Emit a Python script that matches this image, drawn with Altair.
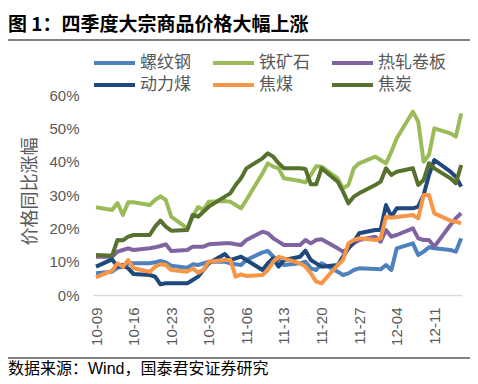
import json
import altair as alt
import pandas as pd

# ---- data ----
dates = [
    "2020-10-09",
    "2020-10-12", "2020-10-13", "2020-10-14", "2020-10-15", "2020-10-16",
    "2020-10-19", "2020-10-20", "2020-10-21", "2020-10-22", "2020-10-23",
    "2020-10-26", "2020-10-27", "2020-10-28", "2020-10-29", "2020-10-30",
    "2020-11-02", "2020-11-03", "2020-11-04", "2020-11-05", "2020-11-06",
    "2020-11-09", "2020-11-10", "2020-11-11", "2020-11-12", "2020-11-13",
    "2020-11-16", "2020-11-17", "2020-11-18", "2020-11-19", "2020-11-20",
    "2020-11-23", "2020-11-24", "2020-11-25", "2020-11-26", "2020-11-27",
    "2020-11-30", "2020-12-01", "2020-12-02", "2020-12-03", "2020-12-04",
    "2020-12-07", "2020-12-08", "2020-12-09", "2020-12-10", "2020-12-11",
    "2020-12-14", "2020-12-15", "2020-12-16",
]

series_names = ["螺纹钢", "铁矿石", "热轧卷板", "动力煤", "焦煤", "焦炭"]
series_colors = ["#4F81BD", "#9BBB59", "#8064A2", "#1F497D", "#F79646", "#56722C"]

rebar = [6.5, 7, 8.2, 8.4, 9.5, 9.5, 9.5, 9.8, 10.2, 9.8,
         8.8, 8.2, 9.2, 9, 9.5, 10, 10, 9.5, 9.2, 9,
         10.5, 12.8, 13.2, 11.5, 10.5, 9, 9.5, 10, 8, 7.5,
         9.5, 7, 6, 6.5, 7.5, 8, 7.8, 7.7, 9, 7.5,
         14, 15.5, 12, 13, 14.3, 14, 13.5, 13, 17]
iron_ore = [26.3, 25.5, 27.6, 24, 27.8, 27.8, 27, 28.5, 29.6, 28.5,
            23.5, 20, 23.5, 26.4, 25.5, 28, 28.2, 28, 27, 26,
            28.5, 36.5, 39.5, 38.5, 38, 35, 34.2, 33.8, 36, 38.6,
            38.5, 35, 32, 33, 38, 39.5, 41.5, 40.5, 39.5, 43,
            47, 55, 52, 40, 42, 50, 48.5, 47.5, 54.5]
hrc = [11.5, 11.5, 13, 13.5, 14, 13.5, 14, 14.3, 14.7, 15.2,
       13.2, 13.5, 14.5, 14.5, 14.5, 15.2, 15.5, 15.5, 15.2, 15,
       16.5, 19, 18.5, 17, 16, 15, 15, 16.5, 15.5, 16.5,
       16.7, 14, 13, 14, 15.5, 16.5, 17.5, 16, 19.5, 17.5,
       18, 20, 17, 16.5, 16.5, 14.5, 21, 23, 24.5]
thermal_coal = [8.5, 10.7, 8.5, 9, 8, 6.3, 6, 5.5, 3.2, 3.5,
                3.5, 3.5, 4.5, 5.5, 7.5, 9.5, 12.3, 10.5, 11, 11.5,
                10.5, 7.5, 9.5, 11, 8.5, 10.5, 11.5, 13.3, 10.5, 9.5,
                8.5, 9, 11.5, 14, 16, 18.5, 19.5, 19.5, 27, 23.5,
                26, 26, 26.5, 30, 36, 40.5, 37, 35.5, 32.5]
coking_coal = [5.3, 7.3, 9.5, 8.5, 10.5, 8, 7, 8.5, 9.2, 9,
               7.5, 7, 8, 6.7, 7.5, 10, 10.5, 10.5, 5.5, 6.2,
               5.7, 6, 7.5, 10, 11.5, 11, 9.5, 8.5, 6.5, 4,
               3.5, 9, 10.5, 15.5, 16.5, 17, 16.5, 17, 23.5, 23.2,
               23.4, 24, 23, 30, 30, 24.5, 22.3, 22, 21.5]
coke = [12, 11.8, 16.5, 16.4, 17.5, 18, 18, 20.5, 22.3, 20.5,
        19.3, 19.5, 24, 23.5, 25, 26.5, 29.5, 30.5, 33, 35,
        38, 41, 42.5, 41.5, 39.5, 38, 38, 37.8, 33.2, 33.2,
        38, 34, 31, 27.5, 29.5, 30.5, 33, 34, 38, 36,
        37, 38, 33, 34.5, 39.5, 38, 35, 33.5, 39]

tick_labels = ["10-09", "10-16", "10-23", "10-30", "11-06",
               "11-13", "11-20", "11-27", "12-04", "12-11"]
y_ticks = [0, 0.1, 0.2, 0.3, 0.4, 0.5, 0.6]

title_text = "图 1：四季度大宗商品价格大幅上涨"
y_title = "价格同比涨幅"
source_text = "数据来源：Wind，国泰君安证券研究"

# ---- build table ----
start = pd.Timestamp(dates[0])
day = [(pd.Timestamp(d) - start).days for d in dates]
all_values = [rebar, iron_ore, hrc, thermal_coal, coking_coal, coke]
rows = []
for name, vals in zip(series_names, all_values):
    for dd, d, v in zip(dates, day, vals):
        rows.append({"date": dd, "day": d, "series": name, "value": v / 100.0})
df = pd.DataFrame(rows)

tick_days = [(pd.Timestamp("2020-" + t) - start).days for t in tick_labels]
label_expr = json.dumps(tick_labels, ensure_ascii=False) + "[round(datum.value/7)]"

GRAY = "#595959"

lines = alt.Chart(df).mark_line(strokeWidth=4, strokeJoin="round").encode(
    x=alt.X("day:Q",
            scale=alt.Scale(domain=[-0.56, 68.15], nice=False, zero=False),
            axis=alt.Axis(values=tick_days, labelExpr=label_expr, labelAngle=270,
                          grid=False, ticks=False, domainColor="#D9D9D9",
                          domainWidth=1.5, labelPadding=12, labelFontSize=15,
                          labelColor=GRAY, title=None)),
    y=alt.Y("value:Q",
            scale=alt.Scale(domain=[0, 0.6], nice=False),
            axis=alt.Axis(values=y_ticks, format=".0%", domain=False, ticks=False,
                          grid=False, labelPadding=14, labelFontSize=15,
                          labelColor=GRAY, title=y_title, titleFontSize=18,
                          titleColor=GRAY, titleFontWeight="normal",
                          titleX=-63, titleY=96, titleBaseline="middle",
                          titleAlign="center")),
    color=alt.Color("series:N",
                    scale=alt.Scale(domain=series_names, range=series_colors),
                    legend=alt.Legend(orient="none", legendX=-1, legendY=-42,
                                      direction="horizontal", columns=3,
                                      symbolType="stroke", symbolStrokeWidth=4,
                                      symbolSize=1681, labelFontSize=17,
                                      labelColor=GRAY, labelOffset=3,
                                      labelLimit=200, clipHeight=20,
                                      columnPadding=20, rowPadding=2,
                                      padding=0, title=None)),
    order=alt.Order("day:Q"),
)

title_layer = alt.Chart(pd.DataFrame({"t": [title_text]})).mark_text(
    align="left", baseline="alphabetic", fontSize=19, fontWeight="bold",
    color="#000000", font="Noto Sans CJK SC"
).encode(x=alt.value(-85), y=alt.value(-64), text="t:N")

top_rule = alt.Chart(pd.DataFrame({"a": [0]})).mark_rule(
    color=GRAY, strokeWidth=1.5
).encode(x=alt.value(-85), x2=alt.value(377), y=alt.value(-55))

bottom_rule = alt.Chart(pd.DataFrame({"a": [0]})).mark_rule(
    color=GRAY, strokeWidth=1.5
).encode(x=alt.value(-85), x2=alt.value(377), y=alt.value(263))

source_layer = alt.Chart(pd.DataFrame({"t": [source_text]})).mark_text(
    align="left", baseline="alphabetic", fontSize=16, color="#000000"
).encode(x=alt.value(-85), y=alt.value(279), text="t:N")

chart = alt.layer(lines, title_layer, top_rule, bottom_rule, source_layer).properties(
    width=369, height=200,
    autosize=alt.AutoSizeParams(type="none"),
    padding={"left": 85, "top": 87, "right": 8, "bottom": 81},
).configure(font="Liberation Sans, Noto Sans CJK SC").configure_view(stroke=None)

chart.save("out.html", embed_options={"renderer": "svg", "actions": False})
